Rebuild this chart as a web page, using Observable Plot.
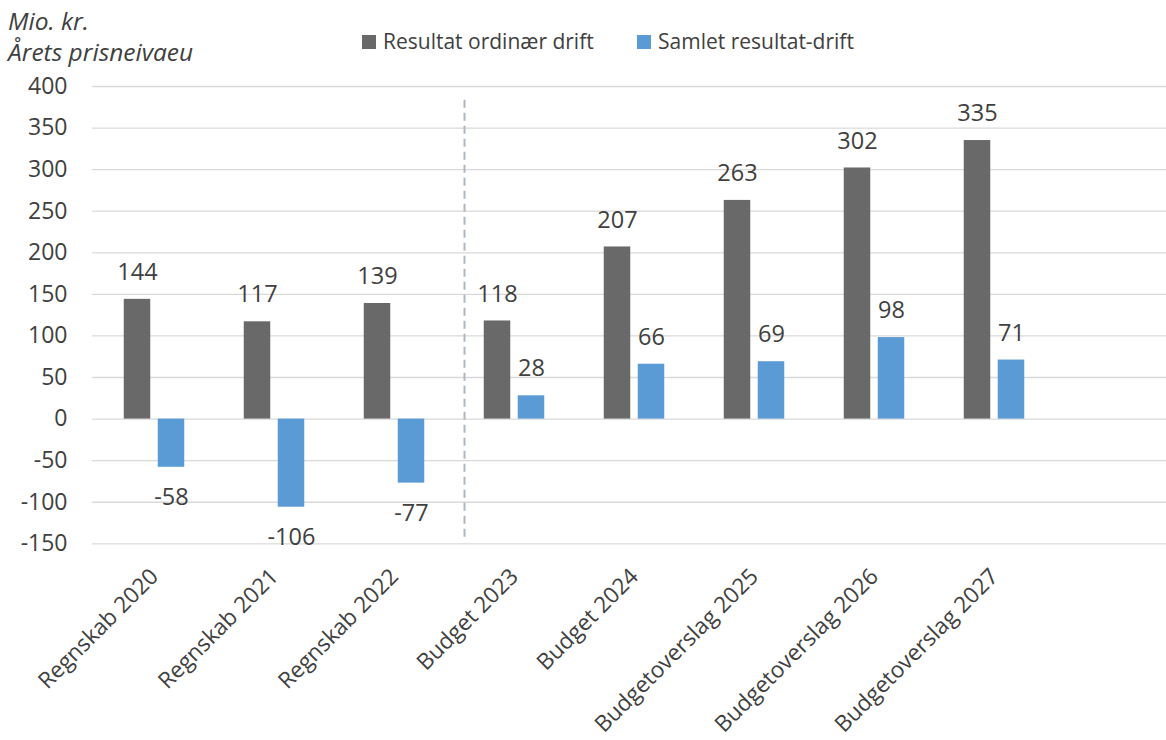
<!DOCTYPE html>
<html><head><meta charset="utf-8">
<script src="https://cdn.jsdelivr.net/npm/d3@7"></script>
<script src="https://cdn.jsdelivr.net/npm/@observablehq/plot@0.6"></script>
<style>
body{margin:0;background:#fff;font-family:"Open Sans",sans-serif;color:#404040;}
#wrap{position:relative;width:1166px;height:740px;overflow:hidden;}
#head{position:relative;height:56px;}
.unit{position:absolute;left:8px;font-style:italic;font-size:24.5px;line-height:1;white-space:nowrap;}
.leg{position:absolute;top:31px;display:flex;align-items:center;font-size:21px;line-height:1;white-space:nowrap;}
.sw{width:14px;height:14px;margin-right:7px;}
</style></head>
<body><div id="wrap"><div id="head"></div><div id="chart"></div></div>
<script>
const categories = ["Regnskab 2020","Regnskab 2021","Regnskab 2022","Budget 2023","Budget 2024","Budgetoverslag 2025","Budgetoverslag 2026","Budgetoverslag 2027"];
const ordinaerDrift = [144,117,139,118,207,263,302,335];
const samletDrift = [-58,-106,-77,28,66,69,98,71];
const seriesNames = ["Resultat ordinær drift","Samlet resultat-drift"];
const seriesColors = ["#696969","#5b9bd5"];
const yTicks = [-150,-100,-50,0,50,100,150,200,250,300,350,400];
const titleLines = ["Mio. kr.","Årets prisneivaeu"];
const dividerBefore = "Budget 2023";

const rows = [];
categories.forEach((c,i)=>{
  rows.push({cat:c, series:seriesNames[0], value:ordinaerDrift[i]});
  rows.push({cat:c, series:seriesNames[1], value:samletDrift[i]});
});
const s0 = rows.filter(d=>d.series===seriesNames[0]);
const s1 = rows.filter(d=>d.series===seriesNames[1]);

// header
const head = document.getElementById("head");
titleLines.forEach((t,i)=>{
  const d=document.createElement("div");d.className="unit";d.textContent=t;
  d.style.top=(i===0?9:40)+"px";head.appendChild(d);
});
const legLeft=[362,637];
seriesNames.forEach((n,i)=>{
  const d=document.createElement("div");d.className="leg";d.style.left=legLeft[i]+"px";
  d.innerHTML=`<span class="sw" style="background:${seriesColors[i]}"></span><span>${n}</span>`;
  head.appendChild(d);
});

const H = 684;
const textStyle = {fontSize:23.5, fill:"#404040", fontFamily:"Open Sans"};
const chart = Plot.plot({
  width:1166, height:H,
  marginTop:30, marginBottom:196.7, marginLeft:92, marginRight:0,
  style:{fontFamily:"Open Sans", background:"#fff", color:"#404040", overflow:"visible"},
  x:{domain:categories, range:[92.25,1056.25], padding:0, label:null},
  y:{domain:[-150,400], label:null},
  marks:[
    Plot.ruleY(yTicks,{stroke:"#d9d9d9", strokeWidth:1.3}),
    Plot.ruleX([dividerBefore],{x:d=>d, dx:-50, y1:-142, y2:385, stroke:"#adb6c3", strokeWidth:2, strokeDasharray:"8,5"}),
    Plot.barY(s0,{x:"cat", y:"value", fill:seriesColors[0], insetLeft:29.75, insetRight:63.75}),
    Plot.barY(s1,{x:"cat", y:"value", fill:seriesColors[1], insetLeft:63.75, insetRight:29.75}),
    Plot.text(s0,{x:"cat", y:"value", text:d=>String(d.value), dx:-17, dy:-27, ...textStyle}),
    Plot.text(s1.filter(d=>d.value>=0),{x:"cat", y:"value", text:d=>String(d.value), dx:17, dy:-27, ...textStyle}),
    Plot.text(s1.filter(d=>d.value<0),{x:"cat", y:"value", text:d=>String(d.value), dx:17, dy:30, ...textStyle}),
    Plot.axisY({ticks:yTicks, tickSize:0, tickPadding:25, fontSize:23, label:null, tickFormat:d=>String(d)}),
    Plot.axisX({tickSize:0, tickPadding:29, tickRotate:-45, fontSize:22.5, label:null})
  ]
});
document.getElementById("chart").appendChild(chart);
</script></body></html>
